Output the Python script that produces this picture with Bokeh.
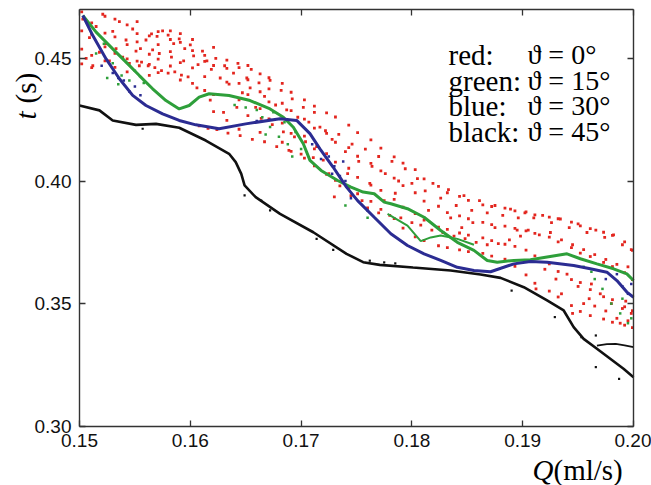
import math
from bokeh.plotting import figure
from bokeh.models import LinearAxis, Label, Range1d, FixedTicker, NumeralTickFormatter
from bokeh.embed import file_html
from bokeh.resources import INLINE

# ---------------- data ----------------
x_ticks = [0.15, 0.16, 0.17, 0.18, 0.19, 0.20]
y_ticks = [0.30, 0.35, 0.40, 0.45]
x_lim = (0.15, 0.20)
y_lim = (0.30, 0.47)

blue_x = [0.1503, 0.1512, 0.1524, 0.1536, 0.1548, 0.1560, 0.1575, 0.1590, 0.1605, 0.1626,
          0.1650, 0.1681, 0.1696, 0.1708, 0.1717, 0.1729, 0.1741, 0.1751, 0.1766, 0.1781,
          0.1796, 0.1811, 0.1826, 0.1841, 0.1856, 0.1871, 0.1892, 0.1907, 0.1922, 0.1946,
          0.1961, 0.1976, 0.1985, 0.1994, 0.2000]
blue_y = [0.4675, 0.4593, 0.4498, 0.4417, 0.4349, 0.4308, 0.4274, 0.4247, 0.4229, 0.4213,
          0.4233, 0.4254, 0.4247, 0.4193, 0.4131, 0.4056, 0.3975, 0.3920, 0.3852, 0.3785,
          0.3737, 0.3703, 0.3676, 0.3648, 0.3635, 0.3630, 0.3662, 0.3672, 0.3669, 0.3655,
          0.3642, 0.3628, 0.3594, 0.3547, 0.3526]

green_x = [0.1503, 0.1515, 0.1530, 0.1542, 0.1554, 0.1566, 0.1578, 0.1590, 0.1599, 0.1608,
           0.1617, 0.1635, 0.1654, 0.1672, 0.1684, 0.1693, 0.1702, 0.1708, 0.1718, 0.1733,
           0.1745, 0.1756, 0.1766, 0.1775, 0.1781, 0.1796, 0.1811, 0.1826, 0.1841, 0.1856,
           0.1868, 0.1877, 0.1892, 0.1907, 0.1922, 0.1940, 0.1952, 0.1967, 0.1982, 0.1994,
           0.2000]
green_y = [0.4675, 0.4607, 0.4539, 0.4485, 0.4430, 0.4376, 0.4328, 0.4294, 0.4308, 0.4342,
           0.4356, 0.4349, 0.4328, 0.4294, 0.4260, 0.4219, 0.4152, 0.4084, 0.4043, 0.4002,
           0.3975, 0.3955, 0.3948, 0.3914, 0.3907, 0.3887, 0.3852, 0.3798, 0.3750, 0.3717,
           0.3676, 0.3669, 0.3676, 0.3679, 0.3690, 0.3703, 0.3683, 0.3662, 0.3642, 0.3621,
           0.3594]

green2_x = [0.1778, 0.1796, 0.1808, 0.1817, 0.1826, 0.1841, 0.1856]
green2_y = [0.3866, 0.3818, 0.3755, 0.3770, 0.3778, 0.3764, 0.3740]

black_x = [0.1500, 0.1518, 0.1530, 0.1551, 0.1569, 0.1590, 0.1614, 0.1635, 0.1641, 0.1646,
           0.1649, 0.1659, 0.1681, 0.1711, 0.1741, 0.1756, 0.1771, 0.1801, 0.1835, 0.1862,
           0.1880, 0.1901, 0.1922, 0.1937, 0.1946, 0.1955, 0.1967, 0.1979, 0.1991, 0.2000]
black_y = [0.4308, 0.4288, 0.4247, 0.4229, 0.4233, 0.4217, 0.4165, 0.4111, 0.4077, 0.4029,
           0.3982, 0.3934, 0.3866, 0.3791, 0.3703, 0.3669, 0.3658, 0.3647, 0.3635, 0.3619,
           0.3605, 0.3567, 0.3513, 0.3472, 0.3404, 0.3356, 0.3316, 0.3275, 0.3234, 0.3200]

black2_x = [0.1967, 0.1976, 0.1984, 0.1992, 0.2000]
black2_y = [0.3329, 0.3335, 0.3336, 0.3330, 0.3322]

black_pts_x = [0.1557, 0.1649, 0.1664, 0.1672, 0.1714, 0.1729, 0.1890, 0.1929, 0.1953,
               0.1966, 0.1966, 0.1987, 0.1762, 0.1775, 0.1785]
black_pts_y = [0.4213, 0.3941, 0.3920, 0.3880, 0.3764, 0.3719, 0.3553, 0.3445, 0.3363,
               0.3370, 0.3241, 0.3193, 0.3675, 0.3668, 0.3664]

blue_pts_x = [0.1520, 0.1530, 0.1540, 0.1550, 0.1545, 0.1555, 0.1535, 0.1710, 0.1718,
              0.1725, 0.1730, 0.1735, 0.1738, 0.1728, 0.1745, 0.1975, 0.1985, 0.1990,
              0.1995, 0.1998, 0.1660, 0.1672, 0.1740, 0.1760]
blue_pts_y = [0.4470, 0.4440, 0.4410, 0.4385, 0.4365, 0.4350, 0.4420, 0.4150, 0.4090,
              0.4100, 0.4060, 0.4020, 0.4080, 0.4030, 0.3930, 0.3600, 0.3620, 0.3570,
              0.3540, 0.3580, 0.4245, 0.4250, 0.4000, 0.3880]

green_pts_x = [0.1515, 0.1522, 0.1530, 0.1538, 0.1545, 0.1550, 0.1558, 0.1525, 0.1535,
               0.1665, 0.1672, 0.1680, 0.1688, 0.1695, 0.1700, 0.1675, 0.1685, 0.1692,
               0.1668, 0.1955, 0.1965, 0.1972, 0.1980, 0.1988, 0.1995, 0.1998, 0.1990,
               0.1962, 0.1640, 0.1650, 0.1660, 0.1740, 0.1760]
green_pts_y = [0.4520, 0.4560, 0.4480, 0.4430, 0.4410, 0.4450, 0.4400, 0.4420, 0.4395,
               0.4260, 0.4220, 0.4180, 0.4150, 0.4200, 0.4130, 0.4280, 0.4240, 0.4100,
               0.4190, 0.3650, 0.3600, 0.3560, 0.3500, 0.3460, 0.3420, 0.3440, 0.3520,
               0.3630, 0.4310, 0.4300, 0.4290, 0.3900, 0.3850]

red_x = [0.1503, 0.1506, 0.1509, 0.1512, 0.1515, 0.1518, 0.1521, 0.1524, 0.1527, 0.1530,
         0.1533, 0.1536, 0.1539, 0.1542, 0.1545, 0.1548, 0.1551, 0.1554,
         0.1555, 0.1560, 0.1565, 0.1570, 0.1575, 0.1580, 0.1585, 0.1590, 0.1595, 0.1600,
         0.1556, 0.1562, 0.1568, 0.1574, 0.1580, 0.1586, 0.1592, 0.1598,
         0.1572, 0.1583, 0.1594, 0.1566,
         0.1603, 0.1607, 0.1611, 0.1615, 0.1619, 0.1623, 0.1627, 0.1631, 0.1635, 0.1639,
         0.1643, 0.1647, 0.1651, 0.1655, 0.1659, 0.1606, 0.1618, 0.1630, 0.1642, 0.1654,
         0.1608, 0.1616, 0.1624,
         0.1662, 0.1667, 0.1672, 0.1677, 0.1682, 0.1687, 0.1692, 0.1697, 0.1702, 0.1707,
         0.1712, 0.1717,
         0.1664, 0.1674, 0.1684, 0.1694, 0.1704, 0.1714,
         0.1634, 0.1645, 0.1656, 0.1667, 0.1678, 0.1689, 0.1700, 0.1711, 0.1720,
         0.1722, 0.1728, 0.1734, 0.1740, 0.1746, 0.1752, 0.1758, 0.1764, 0.1770, 0.1776,
         0.1782, 0.1788, 0.1794, 0.1800,
         0.1725, 0.1735, 0.1745, 0.1755, 0.1730, 0.1760, 0.1770, 0.1780, 0.1790, 0.1800,
         0.1742, 0.1762, 0.1785, 0.1775,
         0.1805, 0.1812, 0.1819, 0.1826, 0.1833, 0.1840, 0.1847, 0.1854, 0.1861, 0.1868,
         0.1875, 0.1882, 0.1889, 0.1896,
         0.1808, 0.1818, 0.1828, 0.1838, 0.1848, 0.1858, 0.1868, 0.1878, 0.1888, 0.1898,
         0.1815, 0.1835, 0.1855, 0.1875, 0.1895, 0.1845,
         0.1902, 0.1910, 0.1918, 0.1926, 0.1934, 0.1942, 0.1950, 0.1958, 0.1966, 0.1974,
         0.1982, 0.1990, 0.1998,
         0.1905, 0.1915, 0.1925, 0.1935, 0.1945, 0.1955, 0.1965, 0.1975, 0.1985, 0.1995,
         0.1920, 0.1930, 0.1940, 0.1950, 0.1960, 0.1965, 0.1970, 0.1975, 0.1980, 0.1985,
         0.1990, 0.1995, 0.1998, 0.1912, 0.1935, 0.1955, 0.1945, 0.1988, 0.1993, 0.1962]
red_y = [0.4660, 0.4500, 0.4585, 0.4470, 0.4630, 0.4525, 0.4680, 0.4560, 0.4490, 0.4610,
         0.4540, 0.4650, 0.4505, 0.4575, 0.4480, 0.4620, 0.4530, 0.4470,
         0.4540, 0.4575, 0.4600, 0.4590, 0.4612, 0.4595, 0.4560, 0.4580, 0.4540, 0.4555,
         0.4485, 0.4470, 0.4462, 0.4450, 0.4440, 0.4445, 0.4432, 0.4425,
         0.4520, 0.4505, 0.4490, 0.4535,
         0.4510, 0.4475, 0.4530, 0.4490, 0.4455, 0.4500, 0.4420, 0.4470, 0.4395, 0.4440,
         0.4480, 0.4360, 0.4420, 0.4455, 0.4300, 0.4380, 0.4330, 0.4280, 0.4300, 0.4380,
         0.4225, 0.4215, 0.4210,
         0.4400, 0.4345, 0.4410, 0.4310, 0.4370, 0.4290, 0.4335, 0.4260, 0.4300, 0.4240,
         0.4280, 0.4220,
         0.4255, 0.4230, 0.4200, 0.4180, 0.4160, 0.4140,
         0.4195, 0.4185, 0.4170, 0.4160, 0.4140, 0.4125, 0.4110, 0.4095, 0.4085,
         0.4205, 0.4170, 0.4190, 0.4120, 0.4150, 0.4080, 0.4130, 0.4060, 0.4100, 0.4030,
         0.4080, 0.4000, 0.4050, 0.3990,
         0.4030, 0.3980, 0.3940, 0.3920, 0.3935, 0.3890, 0.3870, 0.3860, 0.3850, 0.3830,
         0.4030, 0.3990, 0.3950, 0.3920,
         0.4010, 0.3960, 0.3990, 0.3930, 0.3965, 0.3900, 0.3940, 0.3880, 0.3920, 0.3870,
         0.3900, 0.3860, 0.3885, 0.3850,
         0.3820, 0.3800, 0.3790, 0.3775, 0.3765, 0.3750, 0.3740, 0.3745, 0.3760, 0.3775,
         0.3880, 0.3850, 0.3830, 0.3810, 0.3800, 0.3810,
         0.3870, 0.3850, 0.3860, 0.3830, 0.3845, 0.3810, 0.3825, 0.3790, 0.3800, 0.3770,
         0.3780, 0.3740, 0.3720,
         0.3800, 0.3780, 0.3790, 0.3760, 0.3740, 0.3720, 0.3700, 0.3680, 0.3660, 0.3650,
         0.3640, 0.3600, 0.3620, 0.3570, 0.3520, 0.3490, 0.3540, 0.3470, 0.3500, 0.3440,
         0.3480, 0.3430, 0.3460, 0.3560, 0.3540, 0.3500, 0.3460, 0.3420, 0.3510, 0.3580]

red2_x = [0.1502, 0.1502, 0.1502, 0.1502, 0.1511, 0.1511, 0.1511, 0.1511,
          0.1523, 0.1523, 0.1523, 0.1523, 0.1532, 0.1532, 0.1532, 0.1532,
          0.1543, 0.1543, 0.1543, 0.1543, 0.1552, 0.1552, 0.1552, 0.1552,
          0.1563, 0.1563, 0.1563, 0.1563, 0.1571, 0.1571, 0.1571, 0.1571,
          0.1582, 0.1582, 0.1582, 0.1582, 0.1591, 0.1591, 0.1591, 0.1591,
          0.1602, 0.1602, 0.1602, 0.1602, 0.1613, 0.1613, 0.1613, 0.1613,
          0.1621, 0.1621, 0.1621, 0.1621, 0.1633, 0.1633, 0.1633, 0.1633,
          0.1644, 0.1644, 0.1644, 0.1644, 0.1652, 0.1652, 0.1652, 0.1652,
          0.1663, 0.1663, 0.1663, 0.1663, 0.1671, 0.1671, 0.1671, 0.1671,
          0.1683, 0.1683, 0.1683, 0.1683, 0.1691, 0.1691, 0.1691, 0.1691,
          0.1703, 0.1703, 0.1703, 0.1703, 0.1712, 0.1712, 0.1712, 0.1712,
          0.1723, 0.1723, 0.1723, 0.1723, 0.1731, 0.1731, 0.1731, 0.1731,
          0.1743, 0.1743, 0.1743, 0.1743, 0.1751, 0.1751, 0.1751, 0.1751,
          0.1763, 0.1763, 0.1763, 0.1763, 0.1772, 0.1772, 0.1772, 0.1772,
          0.1784, 0.1784, 0.1784, 0.1784, 0.1792, 0.1792, 0.1792, 0.1792,
          0.1803, 0.1803, 0.1803, 0.1803, 0.1811, 0.1811, 0.1811, 0.1811,
          0.1824, 0.1824, 0.1824, 0.1824, 0.1832, 0.1832, 0.1832, 0.1832,
          0.1843, 0.1843, 0.1843, 0.1843, 0.1851, 0.1851, 0.1851, 0.1851,
          0.1864, 0.1864, 0.1864, 0.1864, 0.1872, 0.1872, 0.1872, 0.1872,
          0.1884, 0.1884, 0.1884, 0.1884, 0.1893, 0.1893, 0.1893, 0.1893,
          0.1903, 0.1903, 0.1903, 0.1903, 0.1911, 0.1911, 0.1911, 0.1911,
          0.1924, 0.1924, 0.1924, 0.1924, 0.1932, 0.1932, 0.1932, 0.1932,
          0.1944, 0.1944, 0.1944, 0.1944, 0.1952, 0.1952, 0.1952, 0.1952,
          0.1961, 0.1961, 0.1961, 0.1961, 0.1973, 0.1973, 0.1973, 0.1973,
          0.1981, 0.1981, 0.1981, 0.1981, 0.1992, 0.1992, 0.1992, 0.1992,
          0.1999, 0.1999, 0.1999, 0.1999]
red2_y = [0.4612, 0.4538, 0.4690, 0.4478, 0.4645, 0.4512, 0.4598, 0.4462,
          0.4672, 0.4547, 0.4490, 0.4603, 0.4588, 0.4463, 0.4660, 0.4521,
          0.4637, 0.4556, 0.4445, 0.4498, 0.4601, 0.4489, 0.4650, 0.4567,
          0.4592, 0.4431, 0.4517, 0.4476, 0.4556, 0.4609, 0.4497, 0.4442,
          0.4612, 0.4528, 0.4469, 0.4577, 0.4565, 0.4483, 0.4601, 0.4412,
          0.4532, 0.4461, 0.4398, 0.4577, 0.4512, 0.4426, 0.4369, 0.4488,
          0.4545, 0.4471, 0.4352, 0.4283, 0.4493, 0.4403, 0.4459, 0.4247,
          0.4462, 0.4398, 0.4331, 0.4211, 0.4471, 0.4352, 0.4267, 0.4413,
          0.4437, 0.4364, 0.4295, 0.4198, 0.4421, 0.4323, 0.4253, 0.4376,
          0.4398, 0.4317, 0.4236, 0.4158, 0.4362, 0.4287, 0.4194, 0.4121,
          0.4331, 0.4252, 0.4183, 0.4093, 0.4305, 0.4216, 0.4131, 0.4062,
          0.4278, 0.4194, 0.4112, 0.4027, 0.4261, 0.4158, 0.4077, 0.4003,
          0.4228, 0.4136, 0.4052, 0.3971, 0.4197, 0.4101, 0.4015, 0.3948,
          0.4168, 0.4072, 0.3983, 0.3917, 0.4134, 0.4041, 0.3962, 0.3884,
          0.4098, 0.4012, 0.3925, 0.3847, 0.4073, 0.3981, 0.3893, 0.3808,
          0.4046, 0.3952, 0.3867, 0.3772, 0.4009, 0.3918, 0.3841, 0.3757,
          0.3978, 0.3897, 0.3812, 0.3736, 0.3952, 0.3871, 0.3803, 0.3728,
          0.3937, 0.3858, 0.3788, 0.3719, 0.3921, 0.3846, 0.3779, 0.3712,
          0.3903, 0.3831, 0.3768, 0.3705, 0.3896, 0.3822, 0.3757, 0.3694,
          0.3889, 0.3816, 0.3742, 0.3681, 0.3878, 0.3807, 0.3733, 0.3652,
          0.3874, 0.3797, 0.3718, 0.3617, 0.3862, 0.3786, 0.3695, 0.3583,
          0.3853, 0.3771, 0.3662, 0.3551, 0.3846, 0.3752, 0.3631, 0.3527,
          0.3832, 0.3728, 0.3598, 0.3492, 0.3817, 0.3706, 0.3586, 0.3468,
          0.3806, 0.3692, 0.3557, 0.3451, 0.3791, 0.3668, 0.3528, 0.3437,
          0.3778, 0.3651, 0.3516, 0.3424, 0.3752, 0.3626, 0.3487, 0.3412,
          0.3717, 0.3598, 0.3471, 0.3402]

legend_names = ["red:", "green:", "blue:", "black:"]
legend_angles = ["\u03d1 = 0\u00b0", "\u03d1 = 15\u00b0", "\u03d1 = 30\u00b0", "\u03d1 = 45\u00b0"]

# ---------------- colours ----------------
RED = "#e3261f"
GREEN = "#2e9f3a"
BLUE = "#2b2c92"
BLACK = "#111111"
AXIS = "#333333"

# ---------------- layout geometry (pixels of the reference) ----------------
W, H = 651, 485
FL, FR, FB = 79, 633, 425.7        # frame left / right / bottom pixel
PX_PER_X = (FR - FL) / (x_lim[1] - x_lim[0])
PX_PER_Y = 2452.0

def px2x(px):
    return x_lim[0] + (px - FL) / PX_PER_X

def py2y(py):
    return y_lim[0] + (FB - py) / PX_PER_Y

p = figure(width=W, height=H, output_backend="svg", toolbar_location=None,
           x_range=Range1d(px2x(0), px2x(W)), y_range=Range1d(py2y(H), py2y(0)),
           min_border=0, min_border_left=0, min_border_right=0, min_border_top=0,
           min_border_bottom=0, x_axis_location=None, y_axis_location=None)
p.background_fill_color = "white"
p.border_fill_color = "white"
p.outline_line_color = None
p.grid.visible = False

def make_axis(show_labels, loc, bounds, ticks):
    ax = LinearAxis(fixed_location=loc, bounds=bounds, ticker=FixedTicker(ticks=ticks))
    ax.major_tick_in = 6
    ax.major_tick_out = 0
    ax.minor_tick_in = 0
    ax.minor_tick_out = 0
    ax.axis_line_color = AXIS
    ax.axis_line_width = 1.4
    ax.major_tick_line_color = AXIS
    ax.major_tick_line_width = 1.3
    ax.major_label_text_font = "Liberation Sans"
    ax.major_label_text_font_size = "19px" if show_labels else "0px"
    ax.major_label_text_color = "#111111" if show_labels else None
    ax.formatter = NumeralTickFormatter(format="0.00")
    return ax

xb = make_axis(True, y_lim[0], x_lim, x_ticks); xb.major_label_standoff = 8
yl = make_axis(True, x_lim[0], y_lim, y_ticks); yl.major_label_standoff = 8
xt = make_axis(False, y_lim[1], x_lim, x_ticks)
yr = make_axis(False, x_lim[1], y_lim, y_ticks)
p.add_layout(xb, "below")
p.add_layout(yl, "left")
p.add_layout(xt, "above")
p.add_layout(yr, "right")

# ---------------- data glyphs ----------------
p.scatter(red_x, red_y, size=2.8, marker="square", color=RED, line_width=0)
p.scatter(red2_x, red2_y, size=2.8, marker="square", color=RED, line_width=0)
p.scatter(green_pts_x, green_pts_y, size=2.5, marker="square", color=GREEN, line_width=0)
p.line(green_x, green_y, line_color=GREEN, line_width=3)
p.line(green2_x, green2_y, line_color=GREEN, line_width=2)
p.scatter(blue_pts_x, blue_pts_y, size=2.5, marker="square", color=BLUE, line_width=0)
p.line(blue_x, blue_y, line_color=BLUE, line_width=3)
p.line(black_x, black_y, line_color=BLACK, line_width=2.6)
p.line(black2_x, black2_y, line_color=BLACK, line_width=1.8)
p.scatter(black_pts_x, black_pts_y, size=2.2, marker="square", color=BLACK, line_width=0)

# ---------------- texts ----------------
centers = [54, 80, 105, 131]
for name, ang, c in zip(legend_names, legend_angles, centers):
    p.add_layout(Label(x=px2x(448), y=py2y(c), text=name, text_font="Liberation Serif",
                       text_font_size="29px", text_color="black", text_baseline="middle"))
    p.add_layout(Label(x=px2x(527), y=py2y(c), text=ang, text_font="Liberation Serif",
                       text_font_size="28px", text_color="black", text_baseline="middle"))

# x axis title: Q (ml/s)
p.add_layout(Label(x=px2x(532), y=py2y(469), text="Q", text_font="Liberation Serif",
                   text_font_style="italic", text_font_size="29px", text_color="black",
                   text_baseline="middle"))
p.add_layout(Label(x=px2x(553), y=py2y(469), text="(ml/s)", text_font="Liberation Serif",
                   text_font_size="29px", text_color="black", text_baseline="middle"))

# y axis title: t (s), rotated
p.add_layout(Label(x=px2x(25), y=py2y(119), text="t", text_font="Liberation Serif",
                   text_font_style="italic", text_font_size="29px", text_color="black",
                   text_baseline="middle", angle=math.pi / 2))
p.add_layout(Label(x=px2x(25), y=py2y(103), text="(s)", text_font="Liberation Serif",
                   text_font_size="29px", text_color="black", text_baseline="middle",
                   angle=math.pi / 2))

open("out.html", "w").write(file_html(p, INLINE))
